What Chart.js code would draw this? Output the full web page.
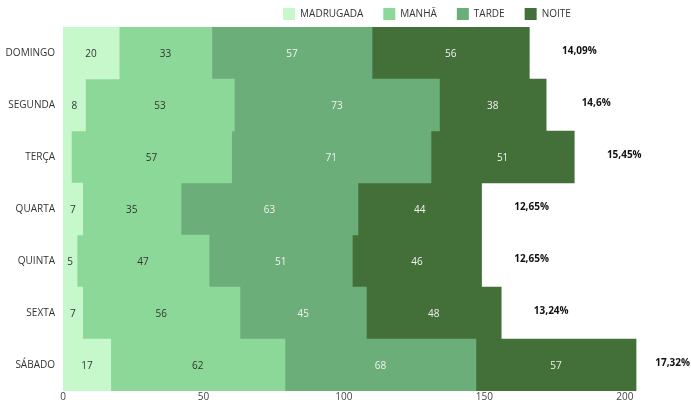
<!DOCTYPE html>
<html>
<head>
<meta charset="utf-8">
<script src="https://cdn.jsdelivr.net/npm/chart.js@4/dist/chart.umd.min.js"></script>
<style>
  html, body { margin: 0; padding: 0; background: #ffffff; }
  #wrap { width: 691px; height: 405px; }
</style>
</head>
<body>
<div id="wrap"><canvas id="c" width="691" height="405"></canvas></div>
<script>
const categories = ['DOMINGO', 'SEGUNDA', 'TERÇA', 'QUARTA', 'QUINTA', 'SEXTA', 'SÁBADO'];
const seriesNames = ['MADRUGADA', 'MANHÃ', 'TARDE', 'NOITE'];
const madrugada = [20, 8, 3, 7, 5, 7, 17];
const manha = [33, 53, 57, 35, 47, 56, 62];
const tarde = [57, 73, 71, 63, 51, 45, 68];
const noite = [56, 38, 51, 44, 46, 48, 57];
const xTickValues = [0, 50, 100, 150, 200];
const xMax = 220;

const seriesColors = ['#c6f8cc', '#8bd898', '#6cae7a', '#436f39'];
const labelColors = ['#333333', '#333333', '#f2f2f2', '#f2f2f2'];
const FONT = "'Open Sans', 'Noto Sans', sans-serif";

const seriesValues = [madrugada, manha, tarde, noite];
const totals = categories.map((_, i) => seriesValues.reduce((s, arr) => s + arr[i], 0));
const grandTotal = totals.reduce((a, b) => a + b, 0);
const pctLabels = totals.map(t => Number((t / grandTotal * 100).toFixed(2)).toString().replace('.', ',') + '%');

const segmentLabels = {
  id: 'segmentLabels',
  afterDatasetsDraw(chart) {
    const ctx = chart.ctx;
    ctx.save();
    ctx.font = '10px ' + FONT;
    ctx.textAlign = 'center';
    ctx.textBaseline = 'middle';
    chart.data.datasets.forEach((ds, di) => {
      const meta = chart.getDatasetMeta(di);
      meta.data.forEach((bar, i) => {
        const v = ds.data[i];
        if (v < 4) return;
        ctx.fillStyle = labelColors[di];
        ctx.fillText(String(v), (bar.x + bar.base) / 2, bar.y + 1);
      });
    });
    // percentage of total, to the right of each stacked bar
    const lastMeta = chart.getDatasetMeta(chart.data.datasets.length - 1);
    ctx.font = 'bold 10px ' + FONT;
    ctx.fillStyle = '#111111';
    lastMeta.data.forEach((bar, i) => {
      const txt = pctLabels[i];
      const w = ctx.measureText(txt).width;
      let cx = bar.x + 50;
      if (cx + w / 2 > chart.width - 1) cx = chart.width - 1 - w / 2;
      ctx.fillText(txt, cx, bar.y - 2);
    });
    ctx.restore();
  }
};

const legendTweak = {
  id: 'legendTweak',
  beforeLayout(chart) {
    const lg = chart.legend;
    if (lg && !lg._tweaked) {
      const orig = lg.fit.bind(lg);
      lg.fit = function () { orig(); this.height = 27; };
      lg._tweaked = true;
    }
  },
  afterLayout(chart) {
    const lg = chart.legend;
    if (!lg) return;
    lg.right = chart.scales.x.getPixelForValue(200) - 34;
    lg.top = -12;
  }
};

new Chart(document.getElementById('c'), {
  type: 'bar',
  data: {
    labels: categories,
    datasets: seriesNames.map((name, k) => ({
      label: name,
      data: seriesValues[k],
      backgroundColor: seriesColors[k],
      borderWidth: 0,
      barPercentage: 1,
      categoryPercentage: 1
    }))
  },
  options: {
    indexAxis: 'y',
    responsive: false,
    animation: false,
    devicePixelRatio: 1,
    layout: { padding: { left: 0, right: 10, top: 0, bottom: 0 } },
    scales: {
      x: {
        stacked: true,
        min: 0,
        max: xMax,
        afterBuildTicks(scale) { scale.ticks = xTickValues.map(v => ({ value: v })); },
        grid: { display: false, drawTicks: false },
        border: { display: false },
        ticks: { color: '#444444', font: { family: FONT, size: 10 }, padding: 0 }
      },
      y: {
        stacked: true,
        grid: { display: false, drawTicks: false },
        border: { display: false },
        ticks: { color: '#333333', font: { family: FONT, size: 10 }, padding: 8 },
        afterFit(scale) { scale.width = 63; }
      }
    },
    plugins: {
      legend: {
        position: 'top',
        align: 'end',
        labels: {
          boxWidth: 12,
          boxHeight: 12,
          padding: 20,
          color: '#333333',
          font: { family: FONT, size: 10 }
        }
      },
      tooltip: { enabled: false }
    }
  },
  plugins: [segmentLabels, legendTweak]
});
</script>
</body>
</html>
